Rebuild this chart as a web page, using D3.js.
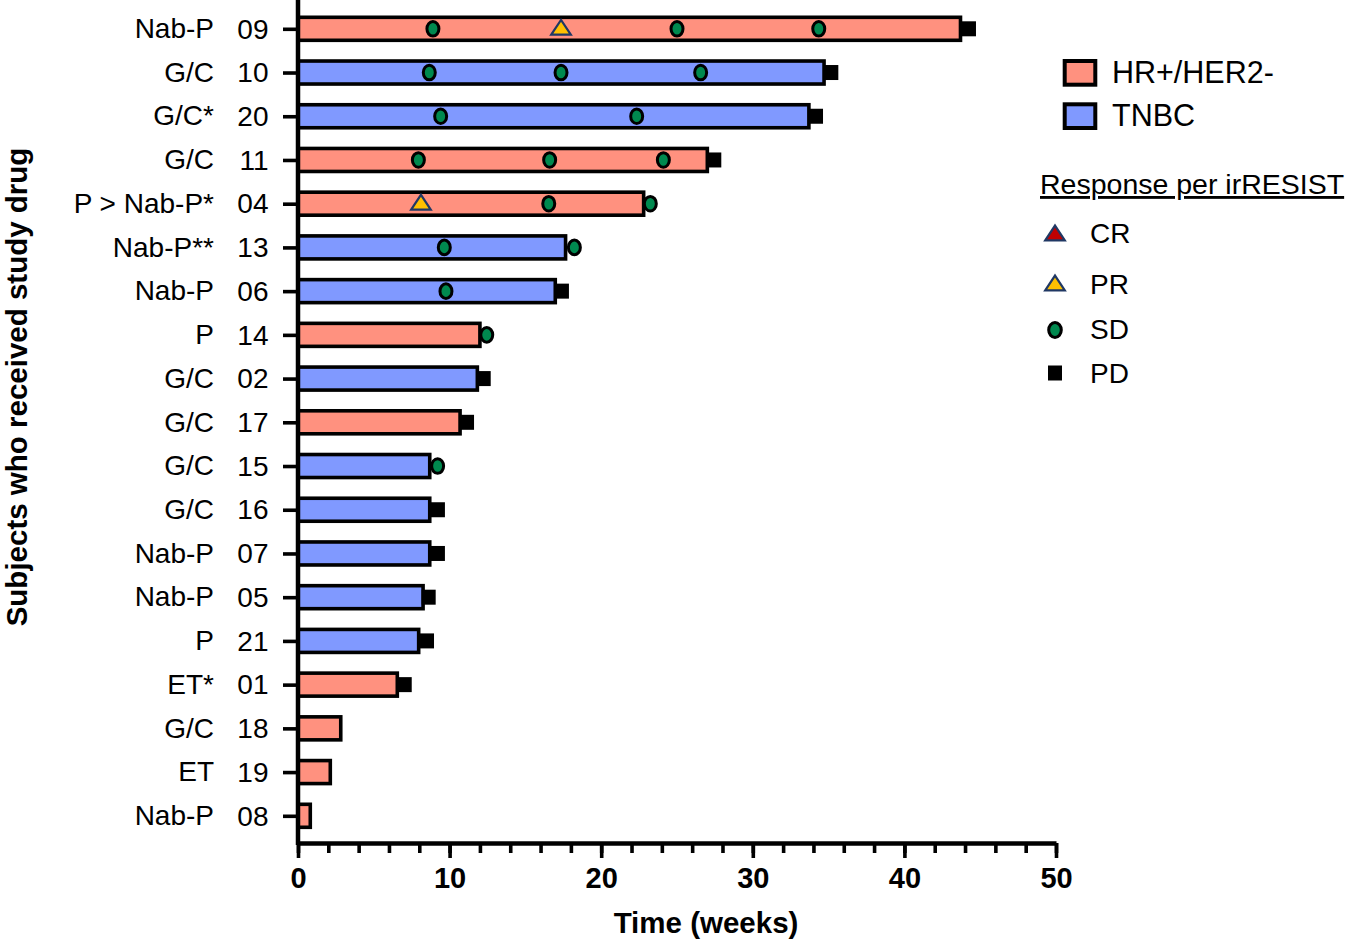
<!DOCTYPE html>
<html>
<head>
<meta charset="utf-8">
<script src="https://cdn.jsdelivr.net/npm/d3@7"></script>
<style>
  html, body { margin: 0; padding: 0; background: #fff; }
  svg { display: block; }
  text { font-family: "Liberation Sans", Arial, Helvetica, sans-serif; fill: #000; }
</style>
</head>
<body>
<svg id="chart" width="1346" height="941"></svg>
<script>
// ---------------- data ----------------
const subjects = ["09","10","20","11","04","13","06","14","02","17","15","16","07","05","21","01","18","19","08"];
const drugs = ["Nab-P","G/C","G/C*","G/C","P > Nab-P*","Nab-P**","Nab-P","P","G/C","G/C","G/C","G/C","Nab-P","Nab-P","P","ET*","G/C","ET","Nab-P"];
const subtypes = ["HR","TNBC","TNBC","HR","HR","TNBC","TNBC","HR","TNBC","HR","TNBC","TNBC","TNBC","TNBC","TNBC","HR","HR","HR","HR"];
const weeksOnDrug = [43.7,34.7,33.7,27.0,22.8,17.65,16.97,12.0,11.83,10.69,8.69,8.69,8.69,8.25,7.96,6.55,2.82,2.13,0.81];

const respSubject = ["09","09","09","09","09",
                     "10","10","10","10",
                     "20","20","20",
                     "11","11","11","11",
                     "04","04","04",
                     "13","13",
                     "06","06",
                     "14","02","17","15","16","07","05","21","01"];
const respType    = ["SD","PR","SD","SD","PD",
                     "SD","SD","SD","PD",
                     "SD","SD","PD",
                     "SD","SD","SD","PD",
                     "PR","SD","SD",
                     "SD","SD",
                     "SD","PD",
                     "SD","PD","PD","SD","PD","PD","PD","PD","PD"];
const respWeek    = [8.9,17.35,25.0,34.35,44.26,
                     8.66,17.35,26.56,35.18,
                     9.41,22.34,34.17,
                     7.94,16.6,24.1,27.46,
                     8.11,16.54,23.24,
                     9.65,18.23,
                     9.76,17.41,
                     12.45,12.25,11.15,9.21,9.23,9.23,8.62,8.51,7.04];

const xMajorTicks = [0,10,20,30,40,50];
const xMinorTicks = d3.range(0, 51, 2);
const groupKeys = ["HR","TNBC"];
const groupLabels = ["HR+/HER2-","TNBC"];
const responseKeys = ["CR","PR","SD","PD"];

// ---------------- styles ----------------
const colors = { HR: "#FF917F", TNBC: "#8099FF" };
const green = "#00894F";
const navy = "#203864";
const triFill = { CR: "#C00000", PR: "#FFC000" };
const FONT = "'Liberation Sans', Arial, sans-serif";

const svg = d3.select("#chart");

const x = d3.scaleLinear().domain([0, 50]).range([298, 1056]);
const y = d3.scalePoint().domain(subjects).range([28.8, 815.8]);
const axisY = 843;
const barH = 23;

// ---------------- bars ----------------
const rows = subjects.map((s, i) => ({ id: s, drug: drugs[i], type: subtypes[i], w: weeksOnDrug[i] }));

svg.append("g").selectAll("rect")
  .data(rows).join("rect")
  .attr("x", x(0))
  .attr("y", d => y(d.id) - barH / 2)
  .attr("width", d => x(d.w) - x(0))
  .attr("height", barH)
  .attr("fill", d => colors[d.type])
  .attr("stroke", "#000")
  .attr("stroke-width", 3.6);

// ---------------- response markers ----------------
const events = respSubject.map((s, i) => ({ id: s, type: respType[i], w: respWeek[i] }));
const triPath = "M-9.8,7.4L0,-7.4L9.8,7.4Z";

function drawMarker(sel, type) {
  if (type === "SD") {
    sel.append("ellipse").attr("rx", 6).attr("ry", 7.3)
      .attr("fill", green).attr("stroke", "#000").attr("stroke-width", 3);
  } else if (type === "PD") {
    sel.append("rect").attr("x", -7).attr("y", -7.5).attr("width", 14).attr("height", 15)
      .attr("fill", "#000");
  } else {
    sel.append("path").attr("d", triPath)
      .attr("fill", triFill[type]).attr("stroke", navy).attr("stroke-width", 2.2);
  }
}

const mk = svg.append("g").selectAll("g")
  .data(events).join("g")
  .attr("transform", d => `translate(${x(d.w)},${y(d.id) - (d.type === "PR" || d.type === "CR" ? 1.5 : 0)})`);
mk.each(function (d) { drawMarker(d3.select(this), d.type); });

// ---------------- axes ----------------
const gx = svg.append("g").attr("transform", `translate(0,${axisY})`);
gx.append("g")
  .call(d3.axisBottom(x).tickValues(xMinorTicks).tickSize(10).tickFormat(""))
  .call(g => g.select(".domain").remove())
  .selectAll("line").attr("stroke", "#000").attr("stroke-width", 3.6);
gx.append("g")
  .call(d3.axisBottom(x).tickValues(xMajorTicks).tickSize(15).tickSizeOuter(0).tickPadding(9))
  .call(g => g.select(".domain").attr("stroke", "#000").attr("stroke-width", 4.5))
  .call(g => g.selectAll("line").attr("stroke", "#000").attr("stroke-width", 3.6))
  .call(g => g.selectAll("text")
    .attr("font-size", 29).attr("font-weight", "bold")
    .attr("font-family", FONT).attr("fill", "#000")
    .attr("dy", "0.72em"));

// y axis line
svg.append("line")
  .attr("x1", x(0)).attr("x2", x(0)).attr("y1", 0).attr("y2", axisY + 2)
  .attr("stroke", "#000").attr("stroke-width", 4.5);

const gy = svg.append("g").attr("transform", `translate(${x(0)},0)`)
  .call(d3.axisLeft(y).tickSize(15).tickPadding(14.5));
gy.select(".domain").remove();
gy.selectAll("line").attr("stroke", "#000").attr("stroke-width", 3.6);
gy.selectAll("text")
  .attr("font-size", 28)
  .attr("font-family", FONT).attr("fill", "#000")
  .attr("dy", "0.33em");

// drug names
svg.append("g").selectAll("text")
  .data(rows).join("text")
  .attr("x", 214)
  .attr("y", d => y(d.id))
  .attr("dy", "0.33em")
  .attr("text-anchor", "end")
  .attr("font-size", 28)
  .text(d => d.drug);

// axis titles
svg.append("text")
  .attr("x", 706)
  .attr("y", 933)
  .attr("text-anchor", "middle")
  .attr("font-size", 29.5)
  .attr("font-weight", "bold")
  .text("Time (weeks)");

svg.append("text")
  .attr("transform", "translate(27,387) rotate(-90)")
  .attr("text-anchor", "middle")
  .attr("font-size", 29.5)
  .attr("font-weight", "bold")
  .text("Subjects who received study drug");

// ---------------- legend ----------------
const lg = svg.append("g");
groupKeys.forEach((k, i) => {
  const yy = 61 + i * 43.3;
  lg.append("rect")
    .attr("x", 1064.7).attr("y", yy).attr("width", 30.6).attr("height", 23.7)
    .attr("fill", colors[k]).attr("stroke", "#000").attr("stroke-width", 4);
  lg.append("text")
    .attr("x", 1112).attr("y", yy + 21.7)
    .attr("font-size", 30.5)
    .text(groupLabels[i]);
});

lg.append("text")
  .attr("x", 1040).attr("y", 194)
  .attr("font-size", 28.5)
  .attr("text-decoration", "underline")
  .text("Response per irRESIST");

const respY = [233, 283, 330, 373];
const respTextY = [242.7, 294, 339, 383];
responseKeys.forEach((k, i) => {
  const g = lg.append("g").attr("transform", `translate(1055,${respY[i]})`);
  if (k === "SD") {
    g.append("ellipse").attr("rx", 6.3).attr("ry", 7.4)
      .attr("fill", green).attr("stroke", "#000").attr("stroke-width", 3);
  } else {
    drawMarker(g, k);
  }
  lg.append("text")
    .attr("x", 1090).attr("y", respTextY[i])
    .attr("font-size", 28)
    .text(k);
});
</script>
</body>
</html>
